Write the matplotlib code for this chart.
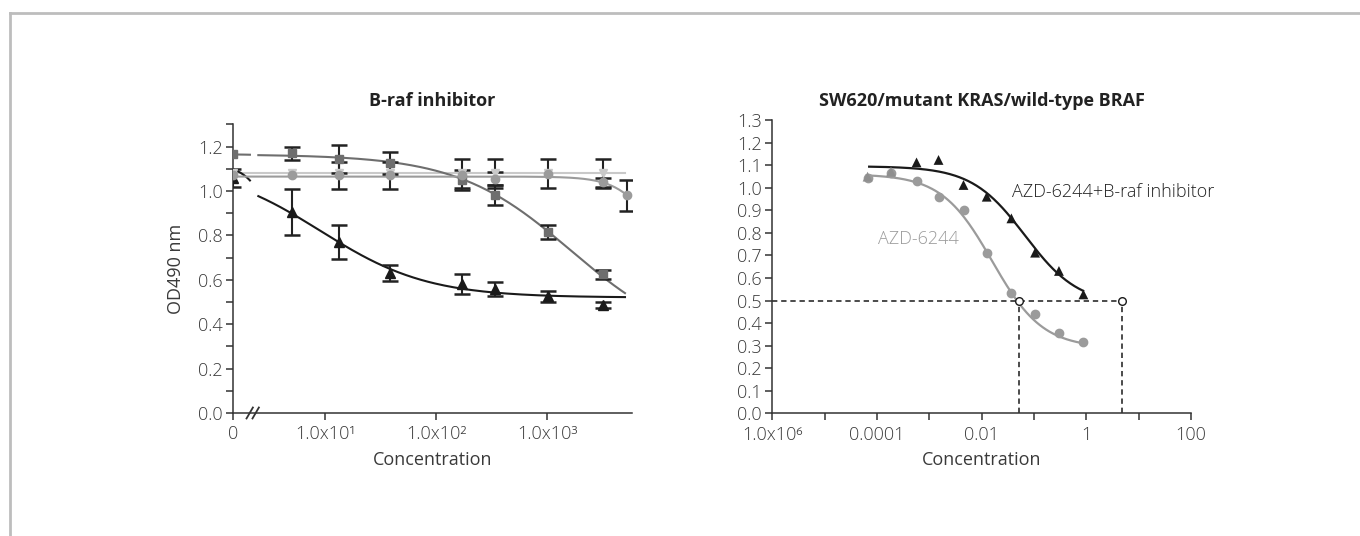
import matplotlib
matplotlib.use("Agg")
import matplotlib.pyplot as plt
from matplotlib.lines import Line2D
from matplotlib.ticker import MultipleLocator, FixedLocator, NullLocator
import numpy as np

plt.rcParams['font.family'] = ['Open Sans', 'DejaVu Sans']
plt.rcParams['font.weight'] = 'light'

# ---- left panel: B-raf inhibitor ----
left_conc = [0, 5.0, 13.2, 38, 170, 340, 1020, 3160, 5250]
sq_vals = [1.165, 1.17, 1.143, 1.125, 1.05, 0.983, 0.815, 0.625]
sq_err = [0, 0.03, 0.064, 0.05, 0.045, 0.045, 0.03, 0.02]
ci_vals = [1.07, 1.07, 1.07, 1.07, 1.07, 1.055, 1.078, 1.04, 0.98]
ci_err = [0, 0, 0.06, 0.06, 0, 0.03, 0.065, 0.02, 0.068]
dt_vals = [1.08, 1.08, 1.08, 1.08, 1.08, 1.08, 1.08, 1.08]
dt_err = [0, 0, 0, 0, 0.065, 0.065, 0, 0.065]
tr_vals = [1.06, 0.905, 0.77, 0.63, 0.58, 0.56, 0.525, 0.485]
tr_err = [0.04, 0.105, 0.077, 0.035, 0.046, 0.032, 0.026, 0.014]
# fitted curve params (top, bottom, log ec50, hill)
sq_fit = (1.165, 0.30, 3.21, 0.85)
ci_fit = (1.065, 0.50, 4.02, 2.5)
dt_fit = (1.08, 1.08, 2.0, 1.0)
tr_fit = (1.12, 0.52, 0.958, 0.9)
left_ticklabels = ['0', '1.0x10¹', '1.0x10²', '1.0x10³']

# ---- right panel: SW620 ----
right_conc = [6.6e-5, 1.85e-4, 5.7e-4, 1.5e-3, 4.5e-3, 0.0125, 0.037, 0.105, 0.30, 0.88]
combo_vals = [1.049, 1.071, 1.112, 1.123, 1.012, 0.960, 0.864, 0.712, 0.631, 0.527]
azd_vals = [1.044, 1.067, 1.03, 0.957, 0.901, 0.712, 0.535, 0.44, 0.355, 0.318]
combo_fit = (1.095, 0.48, -1.17, 0.85)
azd_fit = (1.06, 0.29, -1.80, 0.9)
ic50_azd = 0.052
ic50_combo = 4.9
right_ticklabels = ['1.0x10⁶', '', '0.0001', '', '0.01', '', '1', '', '100']


def hill(x, p):
    top, bottom, c, h = p
    return bottom + (top - bottom) / (1 + 10 ** ((np.log10(x) - c) * h))


DARK = '#1a1a1a'
AXC = '#333333'
TXT = '#3a3a3a'
FS = 13

fig = plt.figure(figsize=(13.6, 5.36), dpi=100)

# frame lines (top and left only)
fig.add_artist(Line2D([10 / 1360, 1], [1 - 13 / 536] * 2, transform=fig.transFigure, color='#bdbdbd', lw=2))
fig.add_artist(Line2D([10 / 1360] * 2, [0, 1 - 13 / 536], transform=fig.transFigure, color='#bdbdbd', lw=2))


def style(ax):
    for s in ['top', 'right']:
        ax.spines[s].set_visible(False)
    for s in ['left', 'bottom']:
        ax.spines[s].set_color(AXC)
        ax.spines[s].set_linewidth(1.1)
    ax.tick_params(which='both', direction='out', length=5, width=1.1, color=AXC,
                   labelsize=FS, labelcolor=TXT, pad=2.5)
    ax.tick_params(axis='x', pad=4)


# ---------- left ----------
ax1 = fig.add_axes([0.1716, 0.2295, 0.2929, 0.5384])
style(ax1)
ax1.set_xscale('log')
zero_pos = 1.49
ax1.set_xlim(zero_pos, 5750)
ax1.set_ylim(0, 1.3)
xs = [zero_pos if c == 0 else c for c in left_conc]

series = [
    (sq_vals, sq_err, sq_fit, '#6e6e6e', 's', 5.5, True),
    (ci_vals, ci_err, ci_fit, '#9b9b9b', 'o', 6, False),
    (dt_vals, dt_err, dt_fit, '#c9c9c9', 'v', 6, False),
    (tr_vals, tr_err, tr_fit, DARK, '^', 6.5, True),
]
order_z = [3, 4, 2, 3]
for (vals, err, fit, col, mk, ms, gap), z in zip(series, order_z):
    x = np.array(xs[:len(vals)])
    if gap:
        # compressed segment before the axis break
        stub_x = np.geomspace(zero_pos, 2.1, 20)
        stub_y = hill(np.geomspace(10 ** -0.6, 1, 20), fit)
        ax1.plot(stub_x, stub_y, color=col, lw=1.5, zorder=z)
        cx = np.geomspace(2.5, 5000, 200)
    else:
        cx = np.geomspace(zero_pos, 5000, 200)
    ax1.plot(cx, hill(cx, fit), color=col, lw=1.5, zorder=z)
    e = np.array(err)
    m = e > 0
    ax1.errorbar(x[m], np.array(vals)[m], yerr=e[m], fmt='none', ecolor='#222222',
                 elinewidth=1.5, capsize=6, capthick=1.8, zorder=5)
    ax1.plot(x, vals, ls='none', marker=mk, ms=ms, color=col, zorder=6 + z)

ax1.xaxis.set_major_locator(FixedLocator([zero_pos, 10, 100, 1000]))
ax1.xaxis.set_minor_locator(NullLocator())
ax1.set_xticklabels(left_ticklabels)
ax1.yaxis.set_major_locator(MultipleLocator(0.2))
ax1.yaxis.set_minor_locator(MultipleLocator(0.1))
ax1.set_yticklabels(['%.1f' % v for v in ax1.get_yticks()])
ax1.set_ylim(0, 1.3)

# axis break marks
bx = 0.05
for off in (-0.009, 0.006):
    ax1.plot([bx + off - 0.008, bx + off + 0.008], [-0.019, 0.019], transform=ax1.transAxes,
             color=AXC, lw=1.3, clip_on=False, zorder=10)

ax1.set_ylabel('OD490 nm', fontsize=FS, color=TXT)
ax1.yaxis.set_label_coords(-0.122, 0.5)
ax1.set_xlabel('Concentration', fontsize=FS, color=TXT)
ax1.xaxis.set_label_coords(0.5, -0.13)
ax1.set_title('B-raf inhibitor', fontsize=13, fontweight='bold', color='#222222', pad=13)

# ---------- right ----------
ax2 = fig.add_axes([0.5679, 0.2289, 0.3078, 0.5472])
style(ax2)
ax2.set_xscale('log')
ax2.set_xlim(1e-6, 100)
ax2.set_ylim(0, 1.3)
ax2.xaxis.set_major_locator(FixedLocator(10.0 ** np.arange(-6, 3)))
ax2.xaxis.set_minor_locator(NullLocator())
ax2.set_xticklabels(right_ticklabels)
ax2.yaxis.set_major_locator(MultipleLocator(0.1))
ax2.set_yticklabels(['%.1f' % v for v in ax2.get_yticks()])
ax2.set_ylim(0, 1.3)

cx = np.geomspace(10 ** -4.15, 10 ** -0.06, 200)
ax2.plot(cx, hill(cx, combo_fit), color=DARK, lw=1.6, zorder=3)
cx = np.geomspace(10 ** -4.2, 10 ** -0.06, 200)
ax2.plot(cx, hill(cx, azd_fit), color='#9b9b9b', lw=1.6, zorder=3)
ax2.plot(right_conc, azd_vals, ls='none', marker='o', ms=6, color='#9b9b9b', zorder=4)
tri_cols = ['#8f8f8f', '#8f8f8f'] + [DARK] * (len(combo_vals) - 2)
ax2.scatter(right_conc, combo_vals, marker='^', s=50, c=tri_cols, zorder=5, linewidths=0)

# IC50 guides
ax2.plot([1e-6, ic50_combo], [0.5, 0.5], ls=(0, (3.5, 2.5)), color=DARK, lw=1.1, zorder=2)
for ic in (ic50_azd, ic50_combo):
    ax2.plot([ic, ic], [0, 0.5], ls=(0, (3.5, 2.5)), color=DARK, lw=1.1, zorder=2)
ax2.plot([ic50_azd, ic50_combo], [0.5, 0.5], ls='none', marker='o', ms=5.5, mfc='white',
         mec=DARK, mew=1.0, zorder=6)

ax2.text(0.038, 0.98, 'AZD-6244+B-raf inhibitor', fontsize=FS, color='#222222', va='center', ha='left')
ax2.text(1.05e-4, 0.773, 'AZD-6244', fontsize=FS, color='#9b9b9b', va='center', ha='left')

ax2.set_xlabel('Concentration', fontsize=FS, color=TXT)
ax2.xaxis.set_label_coords(0.5, -0.127)
ax2.set_title('SW620/mutant KRAS/wild-type BRAF', fontsize=13, fontweight='bold', color='#222222', pad=10)

fig.savefig('out.png', dpi=100)
